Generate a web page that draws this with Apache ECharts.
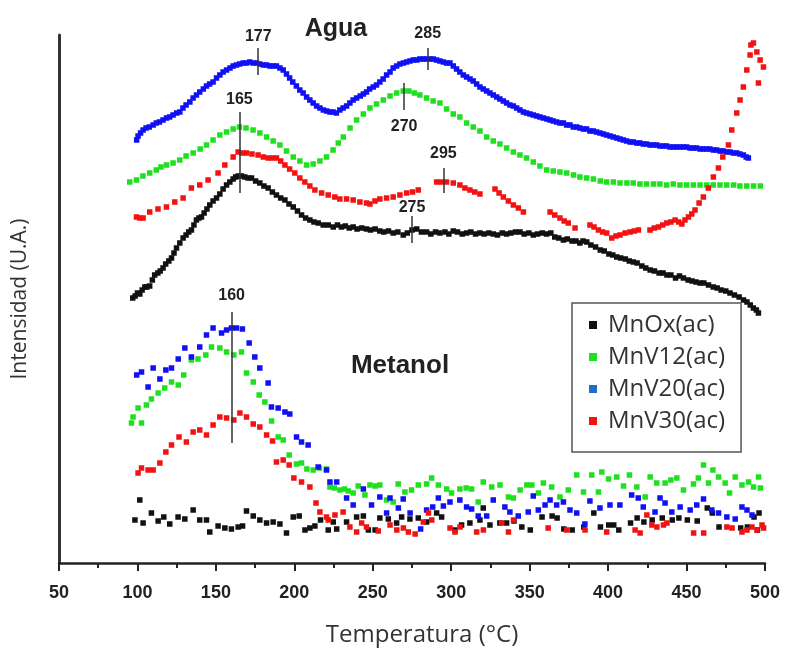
<!DOCTYPE html>
<html><head><meta charset="utf-8">
<script src="https://cdn.jsdelivr.net/npm/echarts@6/dist/echarts.min.js"></script>
<style>html,body{margin:0;padding:0;background:#fff}#c{width:788px;height:652px}</style>
</head><body><div id="c"></div>
<script>
// ---------- DATA (temperature °C, intensity a.u.) ----------
const seriesNames = ['MnOx(ac)', 'MnV12(ac)', 'MnV20(ac)', 'MnV30(ac)'];
const xTicks = [50, 100, 150, 200, 250, 300, 350, 400, 450, 500];

// Agua (water) profiles
const mnOxAgua = [[97,265],[98.5,267],[100,270],[101.5,269],[103,273],[104.7,276],[106,276],[107.8,277],[109.5,283],[111,288],[113,290],[114.5,292],[116.3,295],[118,299],[120,302],[121.7,305],[123.3,310],[124.9,315],[127,320],[129.1,325],[131,328],[132.7,331],[134.4,333],[136,338],[137.6,343],[139.2,345],[140.8,346],[142.5,350],[144.3,354],[146.1,358],[148.2,362],[150.4,365],[152.5,369],[154.6,374],[156.8,378],[158.9,381],[161,384],[162.6,386],[164.2,387],[166.3,387],[168.4,386],[170.5,385],[172.7,385],[175.3,382],[178,380],[180.6,377],[183.3,375],[186,371],[188.6,368],[191.3,365],[194,363],[196.6,359],[199.3,356],[202,352],[204.6,348],[207.2,345],[209.9,343],[212.5,341],[215.2,340],[218.4,338],[221.6,338],[224.8,336],[227.5,338],[230,336],[232.5,337],[235,335],[237.5,336],[240,334],[243,335],[246,334],[248.5,333],[251.5,334],[254.5,332],[257,331],[260,332],[263,330],[266,331],[269.4,328],[272,330],[275,333],[278,334],[281,331],[284.3,331],[287,329],[290,331],[292.8,330],[296,331],[298.5,329],[301.3,332],[304,331],[307,329],[309.8,330],[312.5,331],[315.5,329],[318.3,330],[321,329],[324,330],[326.8,329],[329.5,328],[332.5,330],[335.3,329],[338,330],[341,331],[343.8,331],[346.5,329],[349.5,330],[352.3,328],[355,329],[358,330],[360.8,329],[363.5,330],[366,326],[368.5,325],[371.5,323],[374,324],[377,322],[379.5,322],[382,320],[384,322],[386.4,321],[389,318],[392,316],[395,313],[397.5,312],[400.5,309],[403,308],[405.5,306],[408,305],[411,304],[413.5,302],[416,301],[418.5,300],[421.5,297],[424,295],[426.8,293],[429.5,292],[432.5,290],[435,290],[437.5,288],[440,288],[443,285],[445.5,287],[448,285],[451,283],[453.5,282],[456,281],[458.6,280],[461,280],[464,278],[467,276],[469.5,275],[472,273],[475,272],[477.7,270],[480.5,268],[483.5,266],[486.3,263],[488.5,261],[490.6,258],[492.6,255],[494.5,253],[495.8,250]];
const mnV12Agua = [[95.1,381],[99.4,383],[103.5,387],[107.8,390],[112,393],[115,396],[118.5,398],[122.7,400],[127,403],[131,407],[135.5,410],[140,414],[144,418],[148.2,423],[152.5,428],[156.8,431],[161,434],[165,436],[169.2,435],[173.7,433],[178,430],[182.3,426],[186.5,422],[190.8,418],[195,412],[199.3,406],[203.5,402],[207.8,398],[212,399],[216.3,402],[220.5,406],[224.7,413],[228,420],[231.2,426],[235.5,435],[239.7,443],[244,449],[248.2,455],[252.4,459],[256.7,463],[261,467],[265.2,470],[269.4,472],[273,472],[276.5,470],[280,468],[284.3,465],[288.5,462],[292.8,460],[297,454],[301.3,449],[305.5,446],[309.8,440],[314,436],[318.3,432],[322.6,426],[326.8,422],[331,419],[335.3,415],[339.6,411],[343.8,408],[348,405],[352.3,401],[356.5,397],[360.8,393],[365,392],[369.3,391],[373.6,390],[378,388],[382,386],[386.3,385],[390.6,384],[395,382],[399,381],[403.3,381],[407.6,380],[412,380],[416,380],[420.3,379],[424.5,379],[429,379],[433,379],[437.3,378],[441.5,379],[445.8,378],[450,378],[454.3,378],[458.6,378],[462.8,378],[467,378],[471.3,378],[475.6,378],[480,378],[484,377],[488.4,377],[492.7,377],[497,377]];
const mnV20Agua = [[99.5,423],[100.4,427],[102,430],[103.6,433],[105.5,435],[107.5,436],[110,438],[112,440],[114,441],[116.3,443],[118.5,445],[120.5,446],[122.7,448],[125,450],[127,451],[129,455],[131,458],[133.4,461],[135.5,465],[137.6,468],[139.7,471],[142,474],[144,477],[146,479],[148.2,481],[150.4,485],[152.5,488],[154.6,491],[156.8,493],[159,495],[161,497],[163.1,498],[165.2,499],[167.4,500],[169.5,500],[171.6,501],[173.7,500],[175.9,500],[178,499],[180.2,498],[182.3,498],[184.4,497],[186.5,497],[188.6,497],[190.8,495],[192.9,493],[195,489],[197,485],[199,481],[201.3,477],[203.5,473],[205.6,470],[207.8,466],[209.9,463],[212,460],[214.2,457],[216.3,455],[218.5,453],[220.6,452],[222.7,451],[224.7,451],[226.8,450],[229,453],[231.1,455],[233.3,457],[235.4,460],[237.5,463],[239.7,465],[242,467],[244,469],[246,471],[248,474],[250.3,476],[252.4,478],[254.5,481],[256.6,484],[258.8,488],[261,491],[263,495],[265.2,497],[267.3,499],[269.5,500],[271.6,501],[273.7,502],[275.8,503],[278,503],[280,504],[282.2,504],[284.3,504],[286.4,504],[288.5,504],[290.6,503],[292.8,502],[295,501],[297,500],[299.2,500],[301.3,497],[303.4,494],[305.5,491],[307.7,488],[309.8,486],[312,484],[314,482],[316.2,479],[318.3,476],[320.4,474],[322.6,472],[324.7,470],[326.8,468],[329,466],[331,464],[333.2,462],[335.3,460],[337.4,458],[339.6,457],[341.7,455],[343.8,453],[346,451],[348,450],[350.2,449],[352.3,448],[354.4,447],[356.6,446],[358.7,445],[361,444],[363,443],[365,442],[367.2,441],[369.3,440],[371.5,440],[373.6,438],[375.7,438],[377.8,436],[380,436],[382,435],[384.2,434],[386.3,434],[388.4,432],[390.5,432],[392.6,431],[394.8,430],[397,429],[399,428],[401.2,427],[403.3,426],[405.5,425],[407.6,424],[409.7,423],[411.8,422],[414,421],[416,421],[418.2,420],[420.3,420],[422.4,419],[424.5,419],[426.7,418],[428.8,418],[431,418],[433,417],[435.2,417],[437.3,417],[439.4,416],[441.6,416],[443.7,416],[445.8,416],[448,416],[450.1,416],[452.2,415],[454.3,415],[456.4,415],[458.6,414],[460.7,414],[462.8,414],[464.9,414],[467,413],[469.2,413],[471.3,412],[473.4,412],[475.6,411],[477.7,411],[479.8,410],[482,410],[484,409],[486.2,408],[488,406],[489.4,405]];
const mnV30Agua = [[99.4,346],[101.5,345],[103.6,345],[107.8,351],[113.1,354],[118.5,356],[123.8,361],[129.1,365],[134.4,375],[139.7,378],[145,383],[151.4,390],[155.7,398],[161,406],[164.2,411],[166.8,410],[169.5,410],[173,409],[176.9,408],[180.2,406],[183.3,405],[186,405],[188.6,405],[191.3,402],[194,398],[197,394],[200.3,390],[203.5,385],[206.7,381],[209.9,377],[213.1,373],[217.4,370],[221.6,368],[225.8,366],[229,364],[233.3,364],[237.5,363],[241.8,361],[246,360],[248.2,359],[251.4,362],[254.5,364],[258.8,365],[263,366],[267.3,368],[271.6,370],[275.3,371],[279,373],[290.7,381],[293.8,381],[297,381],[301.3,380],[305.5,378],[308.7,375],[311.9,373],[315,371],[318.3,369],[327.9,374],[330.5,370],[333.2,366],[336.4,362],[339.6,358],[342.8,355],[346,351],[363,351],[366,348],[369.3,345],[372,342],[374.6,340],[378.9,335],[388.4,338],[391,336],[393.8,333],[396.5,331],[399.1,330],[402.3,325],[405,327],[407.6,328],[410.8,330],[414,331],[416.7,332],[419.3,333],[426.7,333],[429.4,335],[432.1,336],[434.8,338],[437.4,340],[440,341],[442.7,343],[445,341],[447,339],[449,343],[451.2,346],[453.3,349],[455.4,353],[458,360],[460.7,366],[463.9,375],[467.1,386],[470.3,395],[473.1,406],[476.7,418],[478.8,433],[482,450],[484.1,463],[486.2,476],[488.4,493],[490.5,508],[491,518],[492.6,520],[494.8,511],[496.9,503],[499,496],[495.8,480]];

// Metanol (methanol) profiles
const mnOxMetanol = [[98.4,43],[101.5,63],[103.6,40],[108.9,50],[113.2,42],[116.8,46],[120.6,39],[125.9,46],[130.2,44],[135.5,53],[139.7,43],[144,43],[146.1,31],[151.4,37],[155.7,35],[159.9,34],[164.2,36],[167,37],[169.5,52],[173.8,47],[178,43],[182.3,40],[186.5,41],[190.8,39],[195,30],[199.3,46],[203.1,47],[206.8,33],[209.9,35],[213.1,37],[216.7,43],[221.6,33],[224.8,41],[227,34],[233.3,41],[239.7,46],[244,47],[247.2,33],[251.5,33],[254.5,45],[259.9,44],[265.2,40],[268.4,46],[273.7,44],[279,45],[284.3,41],[290.7,50],[293.9,46],[302.4,33],[306.6,38],[311.9,40],[318.3,43],[320.4,55],[324.7,38],[331,40],[335.3,40],[340,42],[345,36],[350.4,33],[357.9,46],[364.3,47],[367.5,45],[371.8,34],[377.1,33],[384.5,36],[390.9,50],[395.1,36],[400.4,38],[403.6,38],[406.8,33],[414.3,40],[418.5,45],[422.8,41],[428.1,43],[434.5,45],[440.9,43],[445.1,45],[450.5,43],[456.8,42],[463.2,55],[466.4,50],[470.7,36],[484.5,35],[488.8,36],[493,46],[495.2,33],[496.2,50]];
const mnV12Metanol = [[96.2,140],[97.2,146],[100.4,155],[102.6,140],[105.7,158],[108.9,164],[113.2,170],[117.4,175],[121.7,181],[126,178],[129.5,188],[134.4,203],[138.6,204],[143.6,208],[147.2,216],[152.5,215],[156.8,211],[161.4,208],[166.3,211],[169.5,190],[173.8,181],[177.6,168],[181.2,161],[185.5,142],[189.7,126],[192.9,123],[196.7,108],[201.4,99],[204.6,100],[208,94],[212,93],[216,95],[220.5,94],[222.7,76],[225.5,75],[229,73],[232,74],[234.4,72],[237.5,70],[240.7,77],[245,68],[248.2,78],[251.5,77],[254.5,78],[258.8,63],[263,61],[266.2,79],[270.5,71],[274.7,73],[279,78],[284.3,79],[287.5,85],[291.8,78],[297.1,74],[300.2,70],[305.5,74],[309.5,75],[313,74],[317.2,61],[320.4,81],[325.8,76],[331.1,78],[336.5,66],[339.6,65],[343.9,73],[348.2,78],[351.4,78],[355.6,70],[358.7,80],[364,76],[369.3,66],[374.6,73],[380,88],[384.3,71],[389.6,88],[393.8,71],[396,91],[400.3,84],[405.5,86],[409.8,77],[413.6,88],[418.3,76],[423.6,66],[426.8,86],[431,80],[436.3,80],[440,83],[443.8,85],[448,73],[454.4,79],[457.5,85],[460.8,98],[464,80],[466.8,93],[470.4,86],[474.6,80],[477.4,70],[481,86],[485.3,78],[489.5,81],[492.7,76],[495.9,86],[497,75]];
const mnV20Metanol = [[99.5,188],[102.6,191],[106.8,176],[110,195],[114.3,184],[118.1,193],[121.7,195],[126,204],[130.2,215],[134.4,206],[139.7,216],[144,228],[148.2,235],[153.6,230],[156.8,233],[159.9,235],[163.1,235],[166.9,234],[171.2,220],[174.8,206],[178,195],[183.3,180],[185.4,156],[189.7,155],[194,151],[197.1,149],[201.4,126],[204.6,121],[208.8,118],[215.2,96],[220.5,93],[222.7,81],[227,81],[233.3,65],[237.5,58],[244,74],[249.2,58],[254.5,66],[258.8,50],[261,65],[266.3,55],[269.4,64],[273.8,50],[280.5,34],[284.3,53],[288.2,56],[291.8,65],[295,57],[299.2,61],[305.5,63],[309.8,56],[313,54],[317.2,47],[322.6,47],[326.8,63],[334.2,56],[337.4,51],[342.7,47],[349.1,51],[352.3,67],[355.5,53],[359.8,58],[363,63],[367.2,58],[371.5,61],[375.7,53],[380,50],[385.2,39],[388.4,62],[394.8,55],[401.2,58],[407.5,58],[415,68],[419.2,65],[422.4,56],[429.9,51],[433.1,65],[436.3,60],[440.6,51],[445.9,56],[452.3,53],[456.5,58],[460.8,64],[466.1,53],[470.4,50],[475.7,46],[481,44],[485.3,56],[488.5,53],[491.7,48]];
const mnV30Metanol = [[100.4,90],[102.6,95],[106.8,93],[110,93],[114.3,100],[118.1,111],[121.7,118],[126.5,126],[131.2,121],[135.5,131],[139.7,133],[144,128],[148.2,138],[152.5,146],[156.8,145],[161.4,143],[165.3,150],[169.5,146],[173.8,139],[178,136],[182.3,128],[186.1,122],[188.6,101],[192.9,103],[196.7,98],[199.7,85],[204.6,81],[209.9,76],[213.8,60],[216.3,51],[220.5,46],[221.6,43],[225.9,48],[231.1,51],[235.4,36],[239.7,31],[242.9,40],[246,36],[253.5,32],[261,38],[265.3,33],[269.5,35],[272.7,31],[277,29],[282.2,41],[285.5,50],[287.6,43],[299.2,35],[302.4,31],[305.6,36],[316.2,31],[320.5,33],[332.2,40],[336.5,31],[339.7,43],[361.8,35],[373.6,33],[385.3,33],[399.1,31],[417.2,33],[420.4,30],[424.7,48],[427.9,38],[431.1,36],[435.3,38],[437.5,40],[454.5,30],[460.9,30],[475.7,36],[479,35],[485.3,31],[488.5,33],[491.7,36],[494.9,33],[498.1,38],[499.1,35]];

// Peak annotations: temperature, line from / to (intensity), label text
const annotTemp = [177, 285, 165, 270, 295, 275, 160];
const annotFrom = [488, 493, 370, 480, 370, 320, 120];
const annotTo   = [515, 515, 451, 453, 395, 347, 251];
const annotText = ['177', '285', '165', '270', '295', '275', '160'];

// ---------- CHART ----------
const colors = ['#111111', '#1fe01f', '#1010f5', '#f21212'];
const legendIconColors = ['#111111', '#1fe01f', '#1f6fc5', '#f21212'];
const labelDist = [3, 6, 4, 9, 6, 0, 8];

const chart = echarts.init(document.getElementById('c'), null, {renderer: 'canvas'});
const groups = [
  mnOxAgua.concat(mnOxMetanol),
  mnV12Agua.concat(mnV12Metanol),
  mnV20Agua.concat(mnV20Metanol),
  mnV30Agua.concat(mnV30Metanol)
];
const series = seriesNames.map((n, i) => ({
  name: n, type: 'scatter', data: groups[i], symbol: 'rect', symbolSize: 5.5,
  itemStyle: {color: colors[i], opacity: 1}, silent: true
}));
series.push({
  name: 'annot', type: 'scatter', data: [], silent: true,
  markLine: {
    silent: true, symbol: ['none', 'none'], animation: false,
    lineStyle: {color: '#333', width: 1.5, type: 'solid'},
    label: {show: true, position: 'end', color: '#222', fontWeight: 'bold',
            fontSize: 16, fontFamily: 'Liberation Sans, Arial, sans-serif'},
    data: annotTemp.map((t, i) => [
      {coord: [t, annotFrom[i]]},
      {coord: [t, annotTo[i]], label: {formatter: annotText[i], distance: labelDist[i]}}
    ])
  }
});

chart.setOption({
  animation: false,
  backgroundColor: '#fff',
  grid: {left: 59, right: 23, top: 35, bottom: 89, containLabel: false},
  xAxis: {
    type: 'value', min: xTicks[0], max: xTicks[xTicks.length - 1], interval: 50,
    name: 'Temperatura (°C)', nameLocation: 'middle', nameGap: 60,
    nameTextStyle: {fontFamily: 'Open Sans, sans-serif', fontSize: 24, color: '#333', padding: [0, 0, 0, 20]},
    axisLine: {show: true, onZero: false, lineStyle: {color: '#222', width: 2.5}},
    axisTick: {show: true, inside: false, length: 8, lineStyle: {color: '#222', width: 2}},
    minorTick: {show: true, splitNumber: 2, length: 5, lineStyle: {color: '#222', width: 2}},
    axisLabel: {margin: 21, fontFamily: 'Liberation Sans, Arial, sans-serif', fontWeight: 'bold', fontSize: 18, color: '#222'},
    splitLine: {show: false}, minorSplitLine: {show: false}
  },
  yAxis: {
    type: 'value', min: 0, max: 528,
    name: 'Intensidad (U.A.)', nameLocation: 'middle', nameGap: 28,
    nameTextStyle: {fontFamily: 'Open Sans, sans-serif', fontSize: 21, color: '#333'},
    axisLine: {show: true, onZero: false, lineStyle: {color: '#333', width: 3}},
    axisTick: {show: false}, axisLabel: {show: false}, splitLine: {show: false}
  },
  legend: {
    data: seriesNames.map((n, i) => ({name: n, itemStyle: {color: legendIconColors[i]}})),
    orient: 'vertical', left: 572, top: 303, selectedMode: false,
    icon: 'rect', itemWidth: 8, itemHeight: 8, itemGap: 8,
    padding: [10, 16, 19, 17],
    borderColor: '#555', borderWidth: 1.5, backgroundColor: '#fff',
    textStyle: {fontFamily: 'Open Sans, sans-serif', fontSize: 24, color: '#333', lineHeight: 24, padding: [0, 0, 0, 6]}
  },
  graphic: [
    {type: 'text', x: 336, y: 29, silent: true,
     style: {text: 'Agua', font: 'bold 25px "Liberation Sans", Arial, sans-serif', fill: '#222', align: 'center', verticalAlign: 'middle'}},
    {type: 'text', x: 400, y: 366, silent: true,
     style: {text: 'Metanol', font: 'bold 26px "Liberation Sans", Arial, sans-serif', fill: '#222', align: 'center', verticalAlign: 'middle'}}
  ],
  series: series
});
</script>
</body></html>
